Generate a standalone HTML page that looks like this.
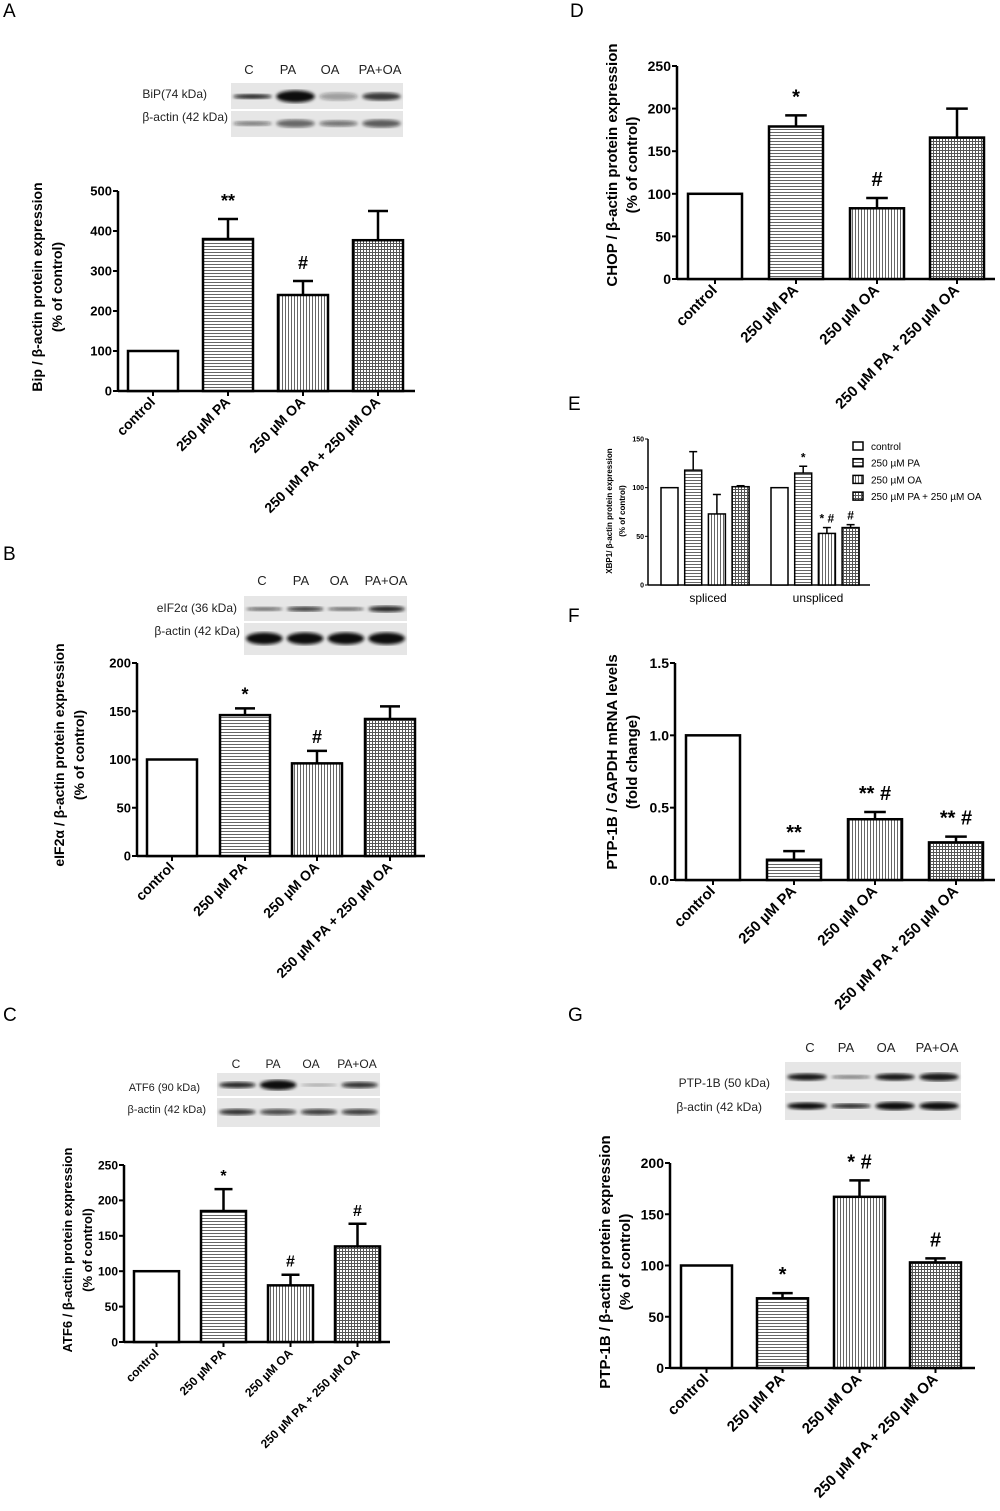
<!DOCTYPE html>
<html><head><meta charset="utf-8">
<style>
html,body{margin:0;padding:0;background:#fff;}
svg{display:block;font-family:"Liberation Sans",Arial,sans-serif;}
</style></head>
<body>
<svg id="fig" width="1000" height="1511" viewBox="0 0 1000 1511" xmlns="http://www.w3.org/2000/svg">
<defs>
<pattern id="pH" width="4" height="3" patternUnits="userSpaceOnUse"><rect width="4" height="3" fill="#fff"/><rect y="0" width="4" height="1" fill="#666"/></pattern>
<pattern id="pV" width="3" height="4" patternUnits="userSpaceOnUse"><rect width="3" height="4" fill="#fff"/><rect x="0" width="1" height="4" fill="#666"/></pattern>
<pattern id="pG" width="3" height="3" patternUnits="userSpaceOnUse"><rect width="3" height="3" fill="#fff"/><rect width="3" height="1" fill="#555"/><rect width="1" height="3" fill="#555"/></pattern>
<filter id="blur"><feGaussianBlur stdDeviation="1.6"/></filter>
</defs>
</svg>
<script>
// ---- data ----
const categories = ["control","250 µM PA","250 µM OA","250 µM PA + 250 µM OA"];
const valsA = [100, 380, 240, 377];
const errA  = [0, 50, 35, 73];
const valsB = [100, 146, 96, 142];
const errB  = [0, 7, 13, 13];
const valsC = [100, 185, 80, 135];
const errC  = [0, 31, 15, 32];
const valsD = [100, 179, 83, 166];
const errD  = [0, 13, 12, 34];
const valsF = [1.0, 0.14, 0.42, 0.26];
const errF  = [0, 0.06, 0.05, 0.04];
const valsG = [100, 68, 167, 103];
const errG  = [0, 5, 16, 4];
const groupsE = ["spliced","unspliced"];
const valsESpliced   = [100, 118, 73, 101];
const errESpliced    = [0, 19, 20, 1];
const valsEUnspliced = [100, 115, 53, 59];
const errEUnspliced  = [0, 7, 6, 3];
const ticksA = [0,100,200,300,400,500];
const ticksB = [0,50,100,150,200];
const ticksC = [0,50,100,150,200,250];
const ticksD = [0,50,100,150,200,250];
const ticksE = [0,50,100,150];
const ticksF = [0,0.5,1.0,1.5];
const ticksG = [0,50,100,150,200];
const blotLanes = ["C","PA","OA","PA+OA"];

const NS="http://www.w3.org/2000/svg";
const svg=document.getElementById('fig');
const fills=["#fff","url(#pH)","url(#pV)","url(#pG)"];
function mk(tag,attrs,parent){const e=document.createElementNS(NS,tag);for(const k in attrs)e.setAttribute(k,attrs[k]);(parent||svg).appendChild(e);return e;}
function txt(s,x,y,size,opts,parent){const o=Object.assign({x:x,y:y,'font-size':size},opts||{});const t=mk('text',o,parent);t.textContent=s;return t;}

function panel(cfg){
  const g=mk('g',{});
  
  
  const y=v=>cfg.y0-(v-cfg.tmin)*(cfg.y0-cfg.ytop)/(cfg.tmax-cfg.tmin);
  const ax=mk('g',{},g);
  
  
  mk('line',{x1:cfg.ax,y1:y(cfg.tmax),x2:cfg.ax,y2:cfg.y0,stroke:'#000','stroke-width':2.5},ax);
  cfg.ticks.forEach((t,i)=>{
    mk('line',{x1:cfg.ax-5,y1:y(t),x2:cfg.ax,y2:y(t),stroke:'#000','stroke-width':2},ax);
    const lab=txt(cfg.tickLabels?cfg.tickLabels[i]:String(t),cfg.ax-6,y(t)+cfg.tfs*0.36,cfg.tfs,{'text-anchor':'end','font-weight':'bold'},ax);
    
    
  });
  const xa=mk('line',{x1:cfg.ax,y1:cfg.y0,x2:cfg.xend,y2:cfg.y0,stroke:'#000','stroke-width':2.5},g);
  
  
  cfg.vals.forEach((v,i)=>{
    const x0=cfg.bx[i], w=cfg.bw, cx=x0+w/2;
    if(cfg.errs[i]>0){
      const et=y(v+cfg.errs[i]);
      mk('line',{x1:cx,y1:y(v),x2:cx,y2:et,stroke:'#000','stroke-width':2.5},g);
      mk('line',{x1:cx-w*0.2,y1:et,x2:cx+w*0.2,y2:et,stroke:'#000','stroke-width':2.5},g);
    }
    const r=mk('rect',{x:x0,y:y(v),width:w,height:cfg.y0-y(v),fill:fills[i],stroke:'#000','stroke-width':2.5},g);
    
    
    mk('line',{x1:cx,y1:cfg.y0,x2:cx,y2:cfg.y0+5,stroke:'#000','stroke-width':2},g);
    const lt=txt(categories[i],cx+3,cfg.y0+12,cfg.lfs,{'text-anchor':'end','font-weight':'bold',transform:`rotate(-45 ${cx+3} ${cfg.y0+12})`},g);
    
    
    if(cfg.ann[i]){
      const a=txt(cfg.ann[i],cx,y(v+cfg.errs[i])-cfg.annGap,cfg.afs,{'text-anchor':'middle','font-weight':'bold','xml:space':'preserve'},g);
      
      
    }
  });
  const t1=txt(cfg.title[0],cfg.tx,cfg.tcy,cfg.yfs,{'text-anchor':'middle','font-weight':'bold',transform:`rotate(-90 ${cfg.tx} ${cfg.tcy})`},g);
  
  
  const t2=txt(cfg.title[1],cfg.tx+20,cfg.tcy,cfg.yfs,{'text-anchor':'middle','font-weight':'bold',transform:`rotate(-90 ${cfg.tx+20} ${cfg.tcy})`},g);
  
  
}

function blot(b){
  const g=mk('g',{});
  
  
  blotLanes.forEach((l,i)=>{const t=txt(l,b.lx[i],b.ly,b.fs,{'text-anchor':'middle',fill:'#222'},g);
    
    });
  mk('rect',{x:b.x,y:b.y,width:b.w,height:b.h,fill:'#e6e6e6'},g);
  mk('line',{x1:b.x,y1:b.split,x2:b.x+b.w,y2:b.split,stroke:'#fff','stroke-width':2},g);
  const lw=b.w/4;
  [0,1].forEach(row=>{
    const cy=row===0?(b.y+b.split)/2:(b.split+b.y+b.h)/2;
    b.bands[row].forEach((th,i)=>{
      mk('ellipse',{cx:b.x+lw*i+lw/2,cy:cy,rx:lw*0.45,ry:th,fill:'#111','fill-opacity':b.op[row][i],filter:'url(#blur)'},g);
    });
  });
  const a=txt(b.labels[0],b.l1x,b.l1y,b.fs-1,{'text-anchor':'end',fill:'#222'},g);
  
  const c=txt(b.labels[1],b.l2x,b.l2y,b.fs-1,{'text-anchor':'end',fill:'#222'},g);
  
}

function letter(s,x,y){const t=txt(s,x,y,19,{fill:'#000'});
  
  }

letter('A',3,17);letter('B',3,560);letter('C',3,1021);letter('D',570,17);letter('E',568,410);letter('F',568,622);letter('G',568,1021);

panel({name:'panel-a-chart',ax:118,y0:391,ytop:191,tmin:0,tmax:500,ticks:ticksA,tfs:13,xend:415,bx:[128,203,278,353],bw:50,vals:valsA,errs:errA,ann:['','**','#',''],annGap:12,afs:18,lfs:14,title:['Bip / β-actin protein expression','(% of control)'],tx:42,tcy:287,yfs:14});
panel({name:'panel-b-chart',ax:137,y0:856,ytop:663,tmin:0,tmax:200,ticks:ticksB,tfs:13,xend:425,bx:[147,220,292,365],bw:50,vals:valsB,errs:errB,ann:['','*','#',''],annGap:8,afs:18,lfs:14,title:['eIF2α / β-actin protein expression','(% of control)'],tx:64,tcy:755,yfs:14});
panel({name:'panel-c-chart',ax:124,y0:1342,ytop:1165,tmin:0,tmax:250,ticks:ticksC,tfs:12,xend:390,bx:[134,201,268,335],bw:45,vals:valsC,errs:errC,ann:['','*','#','#'],annGap:8,afs:16,lfs:12,title:['ATF6 / β-actin protein expression','(% of control)'],tx:72,tcy:1250,yfs:13});
panel({name:'panel-d-chart',ax:677,y0:279,ytop:66,tmin:0,tmax:250,ticks:ticksD,tfs:14,xend:995,bx:[688,769,850,930],bw:54,vals:valsD,errs:errD,ann:['','*','#',''],annGap:12,afs:20,lfs:15,title:['CHOP / β-actin protein expression','(% of control)'],tx:617,tcy:165,yfs:15});
panel({name:'panel-f-chart',ax:675,y0:880,ytop:663,tmin:0,tmax:1.5,ticks:ticksF,tickLabels:['0.0','0.5','1.0','1.5'],tfs:14,xend:995,bx:[686,767,848,929],bw:54,vals:valsF,errs:errF,ann:['','**','** #','** #'],annGap:12,afs:20,lfs:15,title:['PTP-1B / GAPDH mRNA levels','(fold change)'],tx:617,tcy:762,yfs:15});
panel({name:'panel-g-chart',ax:670,y0:1368,ytop:1163,tmin:0,tmax:200,ticks:ticksG,tfs:14,xend:975,bx:[681,757,834,910],bw:51,vals:valsG,errs:errG,ann:['','*','* #','#'],annGap:12,afs:20,lfs:15,title:['PTP-1B / β-actin protein expression','(% of control)'],tx:610,tcy:1262,yfs:15});

blot({name:'blot-a',lx:[249,288,330,380],ly:74,fs:13,x:231,y:83,w:172,h:54,split:110,
  bands:[[2.5,6,4,4],[2.5,4,3,4]],op:[[0.9,1,0.35,0.8],[0.5,0.6,0.55,0.65]],
  labels:['BiP(74 kDa)','β-actin (42 kDa)'],l1x:207,l1y:98,l2x:228,l2y:121});
blot({name:'blot-b',lx:[262,301,339,386],ly:585,fs:13,x:244,y:596,w:163,h:59,split:622,
  bands:[[2,2.5,2,3],[6,6,6,6]],op:[[0.6,0.8,0.6,0.9],[1,1,1,1]],
  labels:['eIF2α (36 kDa)','β-actin (42 kDa)'],l1x:237,l1y:612,l2x:240,l2y:635});
blot({name:'blot-c',lx:[236,273,311,357],ly:1068,fs:12,x:217,y:1073,w:163,h:54,split:1097,
  bands:[[3,5,1.5,3],[3,3,3,3]],op:[[0.9,1,0.3,0.85],[0.85,0.75,0.8,0.8]],
  labels:['ATF6 (90 kDa)','β-actin (42 kDa)'],l1x:200,l1y:1091,l2x:206,l2y:1113});
blot({name:'blot-g',lx:[810,846,886,937],ly:1052,fs:13,x:785,y:1062,w:176,h:58,split:1092,
  bands:[[3.5,2,3.5,4],[3.5,2.5,4,4]],op:[[0.95,0.5,0.95,0.95],[1,0.9,1,1]],
  labels:['PTP-1B (50 kDa)','β-actin (42 kDa)'],l1x:770,l1y:1087,l2x:762,l2y:1111});

(function(){
  const g=mk('g',{});
  
  
  const ax=648,y0=585,ytop=439,tmax=150;
  const y=v=>y0-v*(y0-ytop)/tmax;
  mk('line',{x1:ax,y1:ytop,x2:ax,y2:y0,stroke:'#000','stroke-width':1.5},g);
  mk('line',{x1:ax,y1:y0,x2:870,y2:y0,stroke:'#000','stroke-width':1.5},g);
  ticksE.forEach(t=>{mk('line',{x1:ax-3,y1:y(t),x2:ax,y2:y(t),stroke:'#000','stroke-width':1},g);
    const l=txt(String(t),ax-4,y(t)+2.5,7,{'text-anchor':'end','font-weight':'bold'},g);
    });
  const starts=[661,771], bw=17, step=23.7;
  const sets=[[valsESpliced,errESpliced,['','','','']],[valsEUnspliced,errEUnspliced,['','*','* #','#']]];
  sets.forEach((s,gi)=>{
    s[0].forEach((v,i)=>{
      const x0=starts[gi]+i*step, cx=x0+bw/2;
      if(s[1][i]>0){const et=y(v+s[1][i]);
        mk('line',{x1:cx,y1:y(v),x2:cx,y2:et,stroke:'#000','stroke-width':1.5},g);
        mk('line',{x1:cx-4,y1:et,x2:cx+4,y2:et,stroke:'#000','stroke-width':1.5},g);}
      const r=mk('rect',{x:x0,y:y(v),width:bw,height:y0-y(v),fill:fills[i],stroke:'#000','stroke-width':1.5},g);
      
      
      if(s[2][i]){const a=txt(s[2][i],cx,y(v+s[1][i])-5,12,{'text-anchor':'middle','font-weight':'bold','xml:space':'preserve'},g);
        }
    });
    const gl=txt(groupsE[gi],starts[gi]+47,602,12,{'text-anchor':'middle'},g);
    
  });
  const t1=txt('XBP1/ β-actin protein expression',612,511,8,{'text-anchor':'middle','font-weight':'bold',transform:'rotate(-90 612 511)'},g);
  
  const t2=txt('(% of control)',625,511,8,{'text-anchor':'middle','font-weight':'bold',transform:'rotate(-90 625 511)'},g);
  
  const leg=mk('g',{},g);
  
  categories.forEach((c,i)=>{
    const yy=443+i*16.7;
    const e=mk('g',{},leg);
    
    mk('rect',{x:853,y:yy-1,width:10,height:8,fill:fills[i],stroke:'#000','stroke-width':1.5},e);
    txt(c,871,yy+7,10,{},e);
  });
})();
</script>
</body></html>
